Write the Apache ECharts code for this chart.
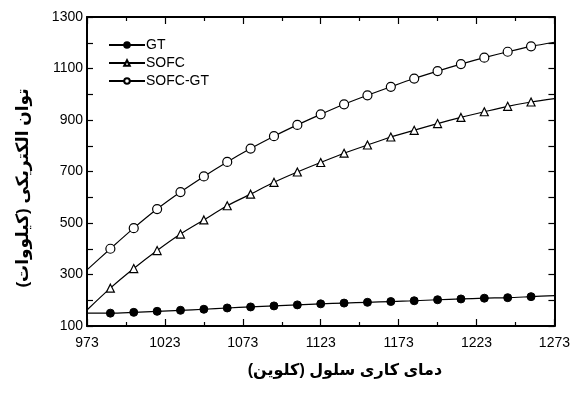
<!DOCTYPE html>
<html>
<head>
<meta charset="utf-8">
<script src="https://cdn.jsdelivr.net/npm/echarts@6/dist/echarts.min.js"></script>
<style>html,body{margin:0;padding:0;background:#fff;}#c{width:573px;height:396px;}</style>
</head>
<body>
<div id="c"></div>
<script>
// Temperatures (K): line end points 973 and 1273, markers every 15 K from 988 to 1258
const temps = [973, 988, 1003, 1018, 1033, 1048, 1063, 1078, 1093, 1108, 1123, 1138, 1153, 1168, 1183, 1198, 1213, 1228, 1243, 1258, 1273];
const gt = [150, 150, 153, 157, 161, 165, 170, 174, 178, 182, 186, 189, 192, 195, 198, 202, 205, 208, 210, 214, 218];
const sofc = [162, 247, 323, 393, 457, 512, 567, 612, 658, 698, 735, 771, 803, 834, 860, 886, 910, 932, 953, 970, 983];
const sofcgt = [318, 400, 480, 554, 620, 681, 737, 789, 837, 881, 922, 961, 996, 1029, 1061, 1090, 1117, 1142, 1165, 1186, 1202];
const xTicks = [973, 1023, 1073, 1123, 1173, 1223, 1273];
const yTicks = [100, 300, 500, 700, 900, 1100, 1300];
const X0 = 973;

function build(vals) {
  return temps.map((t, i) => {
    const item = { value: [t - X0, vals[i]] };
    if (i === 0 || i === temps.length - 1) item.symbol = 'none';
    return item;
  });
}

const font = 'Liberation Sans, Arial, DejaVu Sans, sans-serif';
const chart = echarts.init(document.getElementById('c'), null, { renderer: 'canvas' });

const xCommon = {
  type: 'value', min: 0, max: 300, interval: 50,
  axisLine: { show: true, onZero: false, lineStyle: { color: '#000', width: 2 } },
  axisTick: { show: true, inside: true, length: 7, lineStyle: { color: '#000', width: 1.2 } },
  minorTick: { show: true, splitNumber: 2, length: 4, lineStyle: { color: '#000', width: 1.2 } },
  splitLine: { show: false }, minorSplitLine: { show: false }
};
const yCommon = {
  type: 'value', min: 100, max: 1300, interval: 100,
  axisLine: { show: true, onZero: false, lineStyle: { color: '#000', width: 2 } },
  axisTick: { show: true, inside: true, length: 6, lineStyle: { color: '#000', width: 1.2 } },
  splitLine: { show: false }
};

chart.setOption({
  animation: false,
  backgroundColor: '#fff',
  grid: { left: 87, right: 17, top: 17, bottom: 70, containLabel: false },
  xAxis: [
    Object.assign({}, xCommon, {
      position: 'bottom',
      axisLabel: { show: true, margin: 10, color: '#000', fontSize: 14, fontFamily: font,
        formatter: v => { const t = v + X0; return xTicks.indexOf(t) >= 0 ? String(t) : ''; } }
    }),
    Object.assign({}, xCommon, { position: 'top', axisLabel: { show: false } })
  ],
  yAxis: [
    Object.assign({}, yCommon, {
      position: 'left',
      axisLabel: { show: true, margin: 4, color: '#000', fontSize: 14, fontFamily: font,
        formatter: v => yTicks.indexOf(v) >= 0 ? String(v) : '' }
    }),
    Object.assign({}, yCommon, { position: 'right', axisLabel: { show: false } })
  ],
  legend: {
    orient: 'vertical', left: 108, top: 38, padding: 0, itemWidth: 36, itemHeight: 7, itemGap: 4,
    textStyle: { color: '#000', fontSize: 14, fontFamily: font, padding: [0, 0, 0, -4] },
    data: ['GT', 'SOFC', 'SOFC-GT']
  },
  series: [
    { name: 'GT', type: 'line', smooth: 0.3, data: build(gt), symbol: 'circle', symbolSize: 8,
      lineStyle: { color: '#000', width: 1.2 }, itemStyle: { color: '#000', borderColor: '#000', borderWidth: 1 } },
    { name: 'SOFC', type: 'line', smooth: 0.3, data: build(sofc), symbol: 'triangle', symbolSize: 8,
      lineStyle: { color: '#000', width: 1.2 }, itemStyle: { color: '#fff', borderColor: '#000', borderWidth: 1.2 } },
    { name: 'SOFC-GT', type: 'line', smooth: 0.3, data: build(sofcgt), symbol: 'circle', symbolSize: 9,
      lineStyle: { color: '#000', width: 1.2 }, itemStyle: { color: '#fff', borderColor: '#000', borderWidth: 1.2 } }
  ],
  graphic: [
    { type: 'text', x: 345, y: 371, style: { text: 'دمای کاری سلول (کلوین)', fill: '#000',
        font: 'bold 16px ' + font, textAlign: 'center', textVerticalAlign: 'middle' } },
    { type: 'text', x: 23, y: 188, rotation: Math.PI / 2, style: { text: 'توان الکتریکی (کیلووات)', fill: '#000',
        font: 'bold 17px ' + font, textAlign: 'center', textVerticalAlign: 'middle' } }
  ]
});
</script>
</body>
</html>
